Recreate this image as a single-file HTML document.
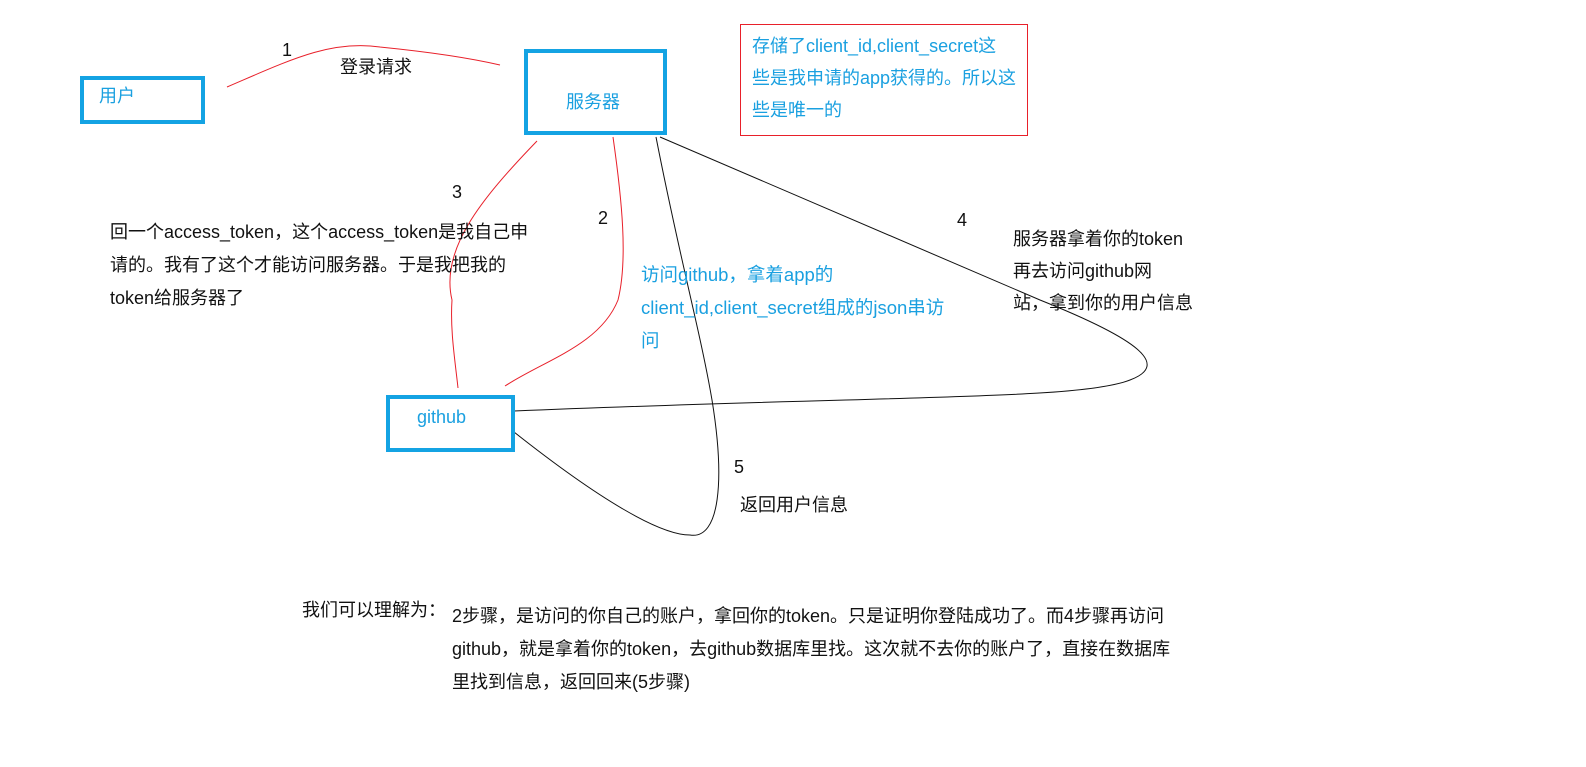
<!DOCTYPE html>
<html><head><meta charset="utf-8"><style>
body{margin:0;width:1586px;height:767px;background:#fff;position:relative;overflow:hidden;font-family:"Liberation Sans","Noto Sans CJK SC",sans-serif;font-size:18px;}
.t{position:absolute;white-space:nowrap;color:#111;line-height:33px;}
.b{color:#1aa0e0;}
.box{position:absolute;border:4px solid #14a3e3;box-sizing:border-box;}
</style></head><body>
<svg width="1586" height="767" style="position:absolute;left:0;top:0">
<g fill="none" stroke-width="1">
<path d="M227,87 C290,60 330,40 380,47 C430,52 470,58 500,65" stroke="#e8202a"/>
<path d="M537,141 C480,200 440,250 452,300 C450,330 455,360 458,388" stroke="#e8202a"/>
<path d="M613,137 C622,200 628,260 618,300 C600,345 545,360 505,386" stroke="#e8202a"/>
<path d="M660,137 L1040,300 C1140,340 1170,365 1130,380 C1080,400 900,395 514,411" stroke="#111"/>
<path d="M656,137 C680,260 700,330 712,400 C725,480 720,540 690,535 C660,535 600,500 514,432" stroke="#111"/>
</g>
</svg>
<div class="box" style="left:80px;top:76px;width:125px;height:48px"></div>
<div class="box" style="left:524px;top:49px;width:143px;height:86px"></div>
<div class="box" style="left:386px;top:395px;width:129px;height:57px"></div>
<div style="position:absolute;left:740px;top:24px;width:288px;height:112px;border:1px solid #e8202a;box-sizing:border-box"></div>
<div class="t b" style="left:99px;top:80px">用户</div>
<div class="t b" style="left:566px;top:86px">服务器</div>
<div class="t b" style="left:417px;top:401px">github</div>
<div class="t b" style="left:752px;top:30px;line-height:32px;font-size:18px">存储了client_id,client_secret这<br>些是我申请的app获得的。所以这<br>些是唯一的</div>
<div class="t" style="left:282px;top:34px">1</div>
<div class="t" style="left:340px;top:51px">登录请求</div>
<div class="t" style="left:452px;top:176px">3</div>
<div class="t" style="left:598px;top:202px">2</div>
<div class="t" style="left:957px;top:204px">4</div>
<div class="t" style="left:734px;top:451px">5</div>
<div class="t" style="left:740px;top:489px">返回用户信息</div>
<div class="t" style="left:110px;top:216px">回一个access_token，这个access_token是我自己申<br>请的。我有了这个才能访问服务器。于是我把我的<br>token给服务器了</div>
<div class="t b" style="left:641px;top:258px;font-size:18.5px">访问github，拿着app的<br>client_id,client_secret组成的json串访<br>问</div>
<div class="t" style="left:1013px;top:223px;line-height:32px">服务器拿着你的token<br>再去访问github网<br>站，拿到你的用户信息</div>
<div class="t" style="left:302px;top:594px">我们可以理解为：</div>
<div class="t" style="left:452px;top:600px">2步骤，是访问的你自己的账户，拿回你的token。只是证明你登陆成功了。而4步骤再访问<br>github，就是拿着你的token，去github数据库里找。这次就不去你的账户了，直接在数据库<br>里找到信息，返回回来(5步骤)</div>
</body></html>
